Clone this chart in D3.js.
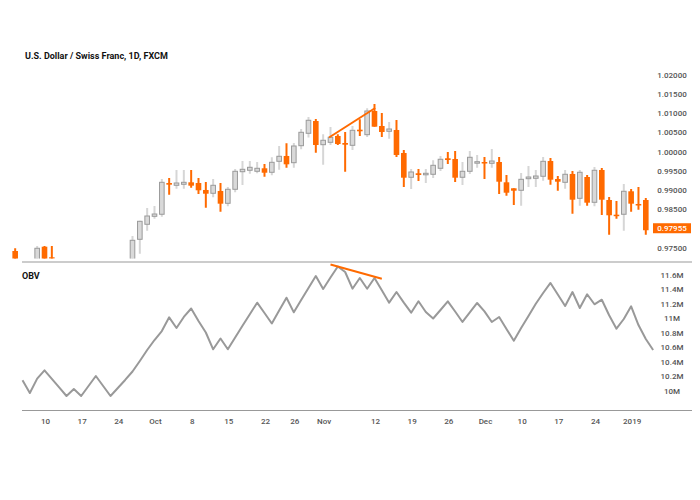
<!DOCTYPE html>
<html><head><meta charset="utf-8">
<script src="https://cdn.jsdelivr.net/npm/d3@7"></script>
<style>body{margin:0;background:#fff}svg{display:block}</style>
</head><body><svg id="c" width="700" height="500"></svg>
<script>
// ---- data ----
const title = "U.S. Dollar / Swiss Franc, 1D, FXCM";
const candleIdx = [-16,-13,-12,-11].concat(d3.range(0,71));
const open = [0.97414,0.97000,0.97526,0.97250,
 0.97100,0.97719,0.98110,0.98318,0.98371,0.99186,0.99126,0.99152,0.99204,0.99186,
 0.99004,0.98918,0.98978,0.98657,0.99022,0.99480,0.99517,0.99491,0.99569,0.99465,
 0.99751,0.99890,0.99715,1.00158,1.00481,1.00801,1.00184,1.00246,1.00411,1.00228,
 1.00168,1.00575,1.00445,1.01062,1.00671,1.00533,1.00567,0.99968,0.99335,0.99439,
 0.99413,0.99413,0.99569,0.99830,0.99811,0.99335,0.99491,0.99715,0.99733,0.99699,
 0.99733,0.99204,0.99048,0.98996,0.99298,0.99309,0.99361,0.99759,0.99290,0.99204,
 0.99421,0.98787,0.99342,0.98683,0.99525,0.98743,0.98360,0.98371,0.98970,0.98639,0.98743];
const close = [0.97000,0.97485,0.97050,0.97232,
 0.97693,0.98188,0.98326,0.98378,0.99204,0.99142,0.99186,0.99204,0.99116,0.98996,
 0.98907,0.99126,0.98647,0.99022,0.99491,0.99543,0.99595,0.99569,0.99454,0.99725,
 0.99882,0.99673,1.00150,1.00507,1.00820,1.00176,1.00299,1.00377,1.00202,1.00184,
 1.00559,1.00533,1.01062,1.00653,1.00515,1.00593,0.99916,0.99324,0.99473,0.99395,
 0.99439,0.99647,0.99804,0.99785,0.99324,0.99491,0.99856,0.99741,0.99707,0.99759,
 0.99220,0.98933,0.98985,0.99282,0.99342,0.99368,0.99751,0.99272,0.99220,0.99413,
 0.98751,0.99465,0.98673,0.99517,0.98751,0.98345,0.98334,0.98970,0.98647,0.98605,0.97955];
const high = [0.97485,0.97545,0.97545,0.97545,
 0.97805,0.98200,0.98535,0.98587,0.99290,0.99316,0.99525,0.99525,0.99525,0.99316,
 0.99212,0.99290,0.99186,0.99082,0.99551,0.99759,0.99759,0.99733,0.99681,0.99856,
 1.00150,1.00220,1.00228,1.00593,1.00906,1.00854,1.00455,1.00645,1.00455,1.00515,
 1.00671,1.00846,1.01132,1.01244,1.01010,1.00775,1.00828,1.00046,0.99551,0.99551,
 0.99551,0.99777,0.99890,0.99994,1.00020,0.99733,1.00020,0.99916,0.99863,1.00072,
 0.99863,0.99395,0.99048,0.99447,0.99629,0.99525,0.99863,0.99837,0.99368,0.99525,
 0.99499,0.99525,0.99395,0.99603,0.99577,0.98821,0.98717,0.99160,0.99030,0.99082,0.98795];
const low = [0.96900,0.96950,0.97000,0.97150,
 0.97000,0.97344,0.97943,0.98256,0.98308,0.98881,0.99038,0.99038,0.99064,0.98899,
 0.98543,0.98813,0.98438,0.98579,0.98944,0.99134,0.99428,0.99439,0.99350,0.99387,
 0.99533,0.99585,0.99585,1.00064,1.00372,0.99975,0.99663,1.00176,1.00176,0.99480,
 1.00046,1.00411,1.00385,1.00653,1.00385,1.00340,0.99863,0.99082,0.99030,0.99238,
 0.99186,0.99316,0.99499,0.99681,0.99212,0.99134,0.99421,0.99585,0.99290,0.99585,
 0.98899,0.98855,0.98613,0.98595,0.99082,0.99082,0.99246,0.99142,0.98985,0.99038,
 0.98386,0.98595,0.98595,0.98579,0.98352,0.97839,0.98256,0.97943,0.98438,0.98490,0.97839];

const obvIdx = d3.range(-15, 72);
const obv = [10.143,9.968,10.166,10.281,10.163,10.046,9.927,10.023,9.927,10.065,
 10.203,10.065,9.927,10.037,10.148,10.265,10.410,10.561,10.699,10.823,
 11.012,10.865,11.017,11.134,10.961,10.803,10.571,10.720,10.571,10.734,
 10.895,11.055,11.214,11.072,10.927,11.106,11.283,11.081,11.251,11.417,
 11.582,11.403,11.561,11.713,11.637,11.407,11.554,11.407,11.554,11.385,
 11.214,11.361,11.214,11.076,11.233,11.086,10.996,11.113,11.233,11.092,
 10.948,11.079,11.210,11.095,10.948,11.017,10.851,10.690,10.865,11.030,
 11.200,11.348,11.486,11.327,11.168,11.361,11.141,11.330,11.192,11.255,
 11.040,10.855,10.989,11.164,10.906,10.713,10.561];

const priceTicks = [1.02,1.015,1.01,1.005,1.0,0.995,0.99,0.985,0.975];
const obvTicks = [11.6,11.4,11.2,11.0,10.8,10.6,10.4,10.2,10.0];
const xTickIdx = [-12,-7,-2,3,8,13,18,22,26,33,38,43,48,53,58,63,68];
const xTickLabels = ["10","17","24","Oct","8","15","22","26","Nov","12","19","26","Dec","10","17","24","2019"];
const lastPrice = 0.97955;
const priceTrendIdx = [26.8, 33.1], priceTrendVal = [1.00371, 1.01140];
const obvTrendIdx = [27.0, 34.0], obvTrendVal = [11.741, 11.543];

// ---- styles ----
const ORANGE = "#ff6a00", GREYFILL = "#d9d9d9", GREYLINE = "#9a9a9a", WICKGREY = "#d6d6d6";
const svg = d3.select("#c");
const x = d3.scaleLinear().domain([0, 70]).range([132.5, 645.8]);
const yP = d3.scaleLinear().domain([0.975, 1.02]).range([247.7, 75]);
const yO = d3.scaleLinear().domain([10, 11.6]).range([390.7, 274.7]);

svg.append("defs").append("clipPath").attr("id","pc")
  .append("rect").attr("x",0).attr("y",60).attr("width",700).attr("height",198.5);

// title
svg.append("text").attr("x",25).attr("y",59).text(title)
  .attr("font-family","Roboto, sans-serif").attr("font-size",9).attr("font-weight","bold").attr("fill","#111");
svg.append("text").attr("x",22).attr("y",279).text("OBV")
  .attr("font-family","Roboto, sans-serif").attr("font-size",9).attr("font-weight","bold").attr("fill","#111");

// separator lines
svg.append("line").attr("x1",22).attr("x2",692).attr("y1",262).attr("y2",262).attr("stroke","#999").attr("stroke-width",1.2);
svg.append("line").attr("x1",22).attr("x2",692).attr("y1",410.5).attr("y2",410.5).attr("stroke","#999").attr("stroke-width",1.2);

// candles
const candles = candleIdx.map((i,k)=>({i, o:open[k], h:high[k], l:low[k], c:close[k]}));
const g = svg.append("g").attr("clip-path","url(#pc)");
const bw = 5.6;
candles.forEach(d=>{
  const up = d.c >= d.o;
  const cx = x(d.i);
  g.append("line").attr("x1",cx).attr("x2",cx).attr("y1",yP(d.h)).attr("y2",yP(d.l))
    .attr("stroke", up ? WICKGREY : ORANGE).attr("stroke-width",2);
  const top = yP(Math.max(d.o,d.c)), bot = yP(Math.min(d.o,d.c));
  const hgt = Math.max(bot-top, 1.5);
  if (up) {
    g.append("rect").attr("x",cx-bw/2+0.5).attr("y",top).attr("width",bw-1).attr("height",hgt)
      .attr("fill",GREYFILL).attr("stroke",GREYLINE).attr("stroke-width",1);
  } else {
    g.append("rect").attr("x",cx-bw/2).attr("y",top).attr("width",bw).attr("height",hgt).attr("fill",ORANGE);
  }
});

// price trend line
svg.append("line")
  .attr("x1",x(priceTrendIdx[0])).attr("y1",yP(priceTrendVal[0]))
  .attr("x2",x(priceTrendIdx[1])).attr("y2",yP(priceTrendVal[1]))
  .attr("stroke",ORANGE).attr("stroke-width",2);

// price axis labels
const fmt5 = d3.format(".5f");
svg.append("g").selectAll("text").data(priceTicks).join("text")
  .attr("x",672).attr("y",d=>yP(d)).attr("dy","0.35em").attr("text-anchor","middle")
  .attr("font-family","Roboto, sans-serif").attr("font-size",8).attr("font-weight",500).attr("fill","#555")
  .text(d=>fmt5(d));
// last price box
const boxY = yP(lastPrice) - 2;
svg.append("rect").attr("x",653).attr("y",boxY-5).attr("width",38).attr("height",10).attr("fill",ORANGE);
svg.append("text").attr("x",672).attr("y",boxY).attr("dy","0.35em").attr("text-anchor","middle")
  .attr("font-family","Roboto, sans-serif").attr("font-size",8).attr("font-weight",500).attr("fill","#fff")
  .text(fmt5(lastPrice));

// OBV line
const line = d3.line().x(d=>x(d[0])).y(d=>yO(d[1]));
svg.append("path").datum(obvIdx.map((i,k)=>[i, obv[k]])).attr("d",line)
  .attr("fill","none").attr("stroke","#999").attr("stroke-width",2).attr("stroke-linejoin","round");
svg.append("line")
  .attr("x1",x(obvTrendIdx[0])).attr("y1",yO(obvTrendVal[0]))
  .attr("x2",x(obvTrendIdx[1])).attr("y2",yO(obvTrendVal[1]))
  .attr("stroke",ORANGE).attr("stroke-width",2);

// OBV axis labels
const fmtM = d => (Math.round(d*10)/10) + "M";
svg.append("g").selectAll("text").data(obvTicks).join("text")
  .attr("x",672).attr("y",d=>yO(d)).attr("dy","0.35em").attr("text-anchor","middle")
  .attr("font-family","Roboto, sans-serif").attr("font-size",8).attr("font-weight",500).attr("fill","#555")
  .text(fmtM);

// x axis labels
svg.append("g").selectAll("text").data(xTickIdx).join("text")
  .attr("x",d=>x(d)+1).attr("y",424).attr("text-anchor","middle")
  .attr("font-family","Roboto, sans-serif").attr("font-size",8).attr("font-weight",500).attr("fill","#555")
  .text((d,k)=>xTickLabels[k]);
</script></body></html>
